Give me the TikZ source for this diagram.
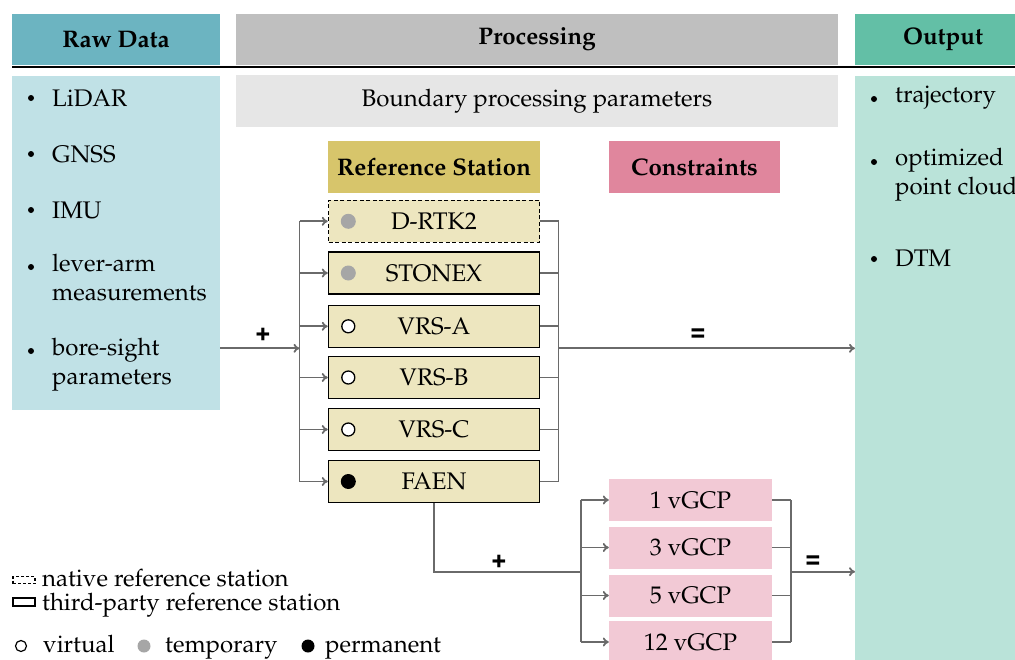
\documentclass[tikz,border=0pt]{standalone}
\usepackage[T1]{fontenc}
\usepackage{mathpazo}
\usepackage{helvet}
\usetikzlibrary{arrows.meta}
\definecolor{rawhead}{HTML}{6CB4C1}
\definecolor{prohead}{HTML}{BFBFBF}
\definecolor{outhead}{HTML}{63BFA6}
\definecolor{rawbody}{HTML}{C0E1E6}
\definecolor{bound}{HTML}{E6E6E6}
\definecolor{outbody}{HTML}{BAE3D9}
\definecolor{refhead}{HTML}{D7C56B}
\definecolor{conhead}{HTML}{E0869D}
\definecolor{stfill}{HTML}{EDE6BF}
\definecolor{gcpfill}{HTML}{F2C9D5}
\definecolor{conn}{HTML}{6A6A6A}
\definecolor{tempgray}{HTML}{A6A6A6}
\tikzset{
  txt/.style={font=\fontsize{24}{29}\selectfont},
  panel/.style={inner sep=0pt, outer sep=0pt},
  headtxt/.style={font=\fontsize{24}{29}\selectfont\bfseries},
  stbox/.style={draw=black, line width=1.5pt, fill=stfill, minimum width=211pt, minimum height=42pt, inner sep=0pt, txt},
  gcpbox/.style={fill=gcpfill, minimum width=163pt, minimum height=42pt, inner sep=0pt, txt},
  wire/.style={draw=conn, line width=1.8pt},
  arr/.style={wire, -{To[length=6pt,width=9pt]}},
  opsym/.style={font=\fontsize{26}{28}\selectfont\sffamily\bfseries},
  dotv/.style={circle, draw=black, line width=1.3pt, fill=white, minimum size=13pt, inner sep=0pt},
  dott/.style={circle, fill=tempgray, minimum size=15pt, inner sep=0pt},
  dotp/.style={circle, fill=black, minimum size=15pt, inner sep=0pt},
  bul/.style={circle, fill=black, minimum size=6pt, inner sep=0pt},
}
\begin{document}
\begin{tikzpicture}[x=1pt,y=-1pt]
\useasboundingbox (0,0) rectangle (1015,659);
\clip (0,0) rectangle (1015,659);
% headers
\node[panel, fill=rawhead, minimum width=208pt, minimum height=51pt, headtxt] (rawh) at (116,39.5) {Raw Data};
\node[panel, fill=prohead, minimum width=602pt, minimum height=51pt, headtxt] (proh) at (537,39.5) {Processing};
\node[panel, fill=outhead, minimum width=176pt, minimum height=51pt, headtxt] (outh) at (943,39.5) {Output};
\coordinate (rulel) at (12,67);
\coordinate (ruler) at (1015,67);
\draw[line width=2.2pt] (rulel) -- (ruler);
% bodies
\node[panel, fill=rawbody, minimum width=208pt, minimum height=334pt] (raw) at (116,243) {};
\node[panel, fill=bound, minimum width=602pt, minimum height=52pt, txt] (bnd) at (537,101) {Boundary processing parameters};
\node[panel, fill=outbody, minimum width=176pt, minimum height=600pt] (out) at (943,376) {};
% raw data list
\foreach \yy/\t in {98/LiDAR,154/GNSS,210/IMU}{
  \node[bul] at (31,\yy) {};
  \node[txt, anchor=west, inner sep=0pt] at (52,\yy) {\t};
}
\node[bul] at (31,267) {};
\node[txt, anchor=north west, inner sep=0pt, align=left] at (52,254) {lever-arm\\measurements};
\node[bul] at (31,351) {};
\node[txt, anchor=north west, inner sep=0pt, align=left] at (52,338) {bore-sight\\parameters};
% output list
\node[bul] at (874,99) {};
\node[txt, anchor=west, inner sep=0pt] at (895,98) {trajectory};
\node[bul] at (874,162) {};
\node[txt, anchor=north west, inner sep=0pt, align=left] at (895,148) {optimized\\point cloud};
\node[bul] at (874,259) {};
\node[txt, anchor=west, inner sep=0pt] at (895,258) {DTM};
% sub headers
\node[panel, fill=refhead, minimum width=212pt, minimum height=52pt, headtxt] (refh) at (434,167) {Reference Station};
\node[panel, fill=conhead, minimum width=171pt, minimum height=52pt, headtxt] (conh) at (694.5,167) {Constraints};
% stations
\node[stbox, dashed, dash pattern=on 4pt off 2.5pt] (s1) at (434,221.3) {D-RTK2};
\node[stbox] (s2) at (434,273) {STONEX};
\node[stbox] (s3) at (434,326.3) {VRS-A};
\node[stbox] (s4) at (434,377.5) {VRS-B};
\node[stbox] (s5) at (434,429.5) {VRS-C};
\node[stbox] (s6) at (434,481.5) {FAEN};
\node[dott] (d1) at (348.3,221.3) {};
\node[dott] (d2) at (348.3,273) {};
\node[dotv] (d3) at (348.3,326.3) {};
\node[dotv] (d4) at (348.3,377.5) {};
\node[dotv] (d5) at (348.3,429.5) {};
\node[dotp] (d6) at (348.3,481.5) {};
% left bus
\coordinate (lb) at (299.5,348.3);
\coordinate (lbt) at (299.5,221.3);
\coordinate (lbb) at (299.5,481.5);
\draw[wire] (lbt) -- (lbb);
\draw[arr] (raw.east |- lb) -- (lb);
\foreach \n in {s1,s2,s3,s4,s5,s6}{
  \draw[arr] (lb |- \n.west) -- (\n.west);
}
\node[opsym] (plus1) at (263,334) {+};
% right bus
\coordinate (rb) at (558.5,348.3);
\coordinate (rbt) at (558.5,221.3);
\coordinate (rbb) at (558.5,481.5);
\draw[wire] (rbt) -- (rbb);
\foreach \n in {s1,s2,s3,s4,s5,s6}{
  \draw[wire] (\n.east) -- (rb |- \n.east);
}
\draw[arr] (rb) -- (out.west |- rb);
\node[opsym] (eq1) at (698,334) {=};
% constraints
\node[gcpbox] (g1) at (690.5,500) {1 vGCP};
\node[gcpbox] (g2) at (690.5,547.5) {3 vGCP};
\node[gcpbox] (g3) at (690.5,595.5) {5 vGCP};
\node[gcpbox] (g4) at (690.5,642) {12 vGCP};
\coordinate (cb) at (580.7,571.7);
\coordinate (cbt) at (580.7,500);
\coordinate (cbb) at (580.7,642);
\draw[wire] (cbt) -- (cbb);
\draw[wire] (s6.south) |- (cb);
\foreach \n in {g1,g2,g3,g4}{
  \draw[arr] (cb |- \n.west) -- (\n.west);
}
\node[opsym] (plus2) at (499,561) {+};
\coordinate (cr) at (790.7,571.7);
\coordinate (crt) at (790.7,500);
\coordinate (crb) at (790.7,642);
\draw[wire] (crt) -- (crb);
\foreach \n in {g1,g2,g3,g4}{
  \draw[wire] (\n.east) -- (cr |- \n.east);
}
\draw[arr] (cr) -- (out.west |- cr);
\node[opsym] (eq2) at (813,561) {=};
% legend
\node[draw=black, line width=1.2pt, dashed, dash pattern=on 3pt off 2pt, minimum width=22pt, minimum height=7pt, inner sep=0pt] (lg1) at (24,580) {};
\node[txt, anchor=base west, inner sep=0pt] (lt1) at (42,586) {native reference station};
\node[draw=black, line width=1.2pt, minimum width=22pt, minimum height=8pt, inner sep=0pt] (lg2) at (24,602) {};
\node[txt, anchor=base west, inner sep=0pt] (lt2) at (42,610) {third-party reference station};
\node[circle, draw=black, line width=1.2pt, fill=white, minimum size=11pt, inner sep=0pt] (lv) at (21,646) {};
\node[txt, anchor=base west, inner sep=0pt] (ltv) at (43,652) {virtual};
\node[circle, fill=tempgray, minimum size=13pt, inner sep=0pt] (ltm) at (144,646) {};
\node[txt, anchor=base west, inner sep=0pt] (ltt) at (165,652) {temporary};
\node[circle, fill=black, minimum size=13pt, inner sep=0pt] (lpm) at (308,646) {};
\node[txt, anchor=base west, inner sep=0pt] (ltp) at (325,652) {permanent};
\end{tikzpicture}
\end{document}
